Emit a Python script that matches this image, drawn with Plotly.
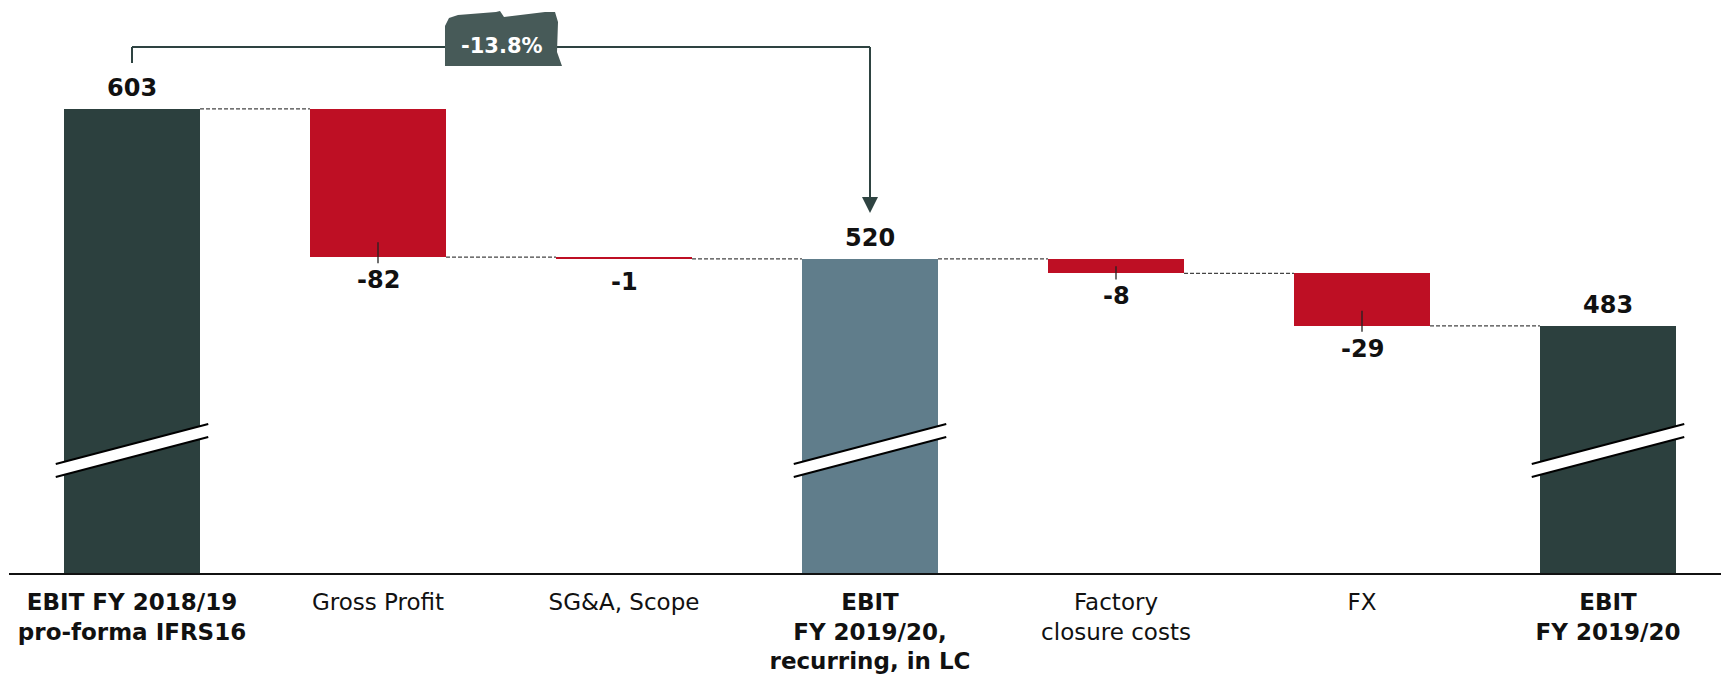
import plotly.graph_objects as go

# ---- data ----
categories = [
    "<b>EBIT FY 2018/19<br>pro-forma IFRS16</b>",
    "Gross Profit",
    "SG&A, Scope",
    "<b>EBIT<br>FY 2019/20,<br>recurring, in LC</b>",
    "Factory<br>closure costs",
    "FX",
    "<b>EBIT<br>FY 2019/20</b>",
]
values = [603, -82, -1, 520, -8, -29, 483]
measures = ["total", "relative", "relative", "total", "relative", "relative", "total"]
total_colors = ["#2C403E", None, None, "#607D8B", None, None, "#2C403E"]
change_label = "-13.8%"

RED = "#BE0F24"
DARK = "#2E4341"
FONT = "DejaVu Sans"

# ---- layout geometry (pixels) ----
W, H = 1721, 677
ML, MB = 9, 104
PW, PH = W - ML, H - MB
Y0, Y1 = 346.2, 663.3
BAR_W = 0.553

def ypx_to_paper(py):
    return (PH - py) / PH

# ---- compute waterfall ----
bases, heights, colors, tops, bottoms = [], [], [], [], []
running = 0
for v, m, c in zip(values, measures, total_colors):
    if m == "total":
        running = v
        bases.append(0)
        heights.append(v)
        colors.append(c)
        tops.append(v)
        bottoms.append(0)
    else:
        new = running + v
        bases.append(new)
        heights.append(-v)
        colors.append(RED)
        tops.append(running)
        bottoms.append(new)
        running = new

x = list(range(len(values)))

fig = go.Figure()
fig.add_trace(go.Bar(
    x=x, y=heights, base=bases, width=BAR_W,
    marker=dict(color=colors, line=dict(width=0)),
    hoverinfo="skip", showlegend=False,
))

shapes = []
annotations = []

# connectors
levels = []
for i, (v, m) in enumerate(zip(values, measures)):
    levels.append(bottoms[i] if m == "relative" else tops[i])
for i in range(len(values) - 1):
    lvl = levels[i]
    shapes.append(dict(type="line", xref="x", yref="y",
                       x0=i + BAR_W / 2, x1=i + 1 - BAR_W / 2, y0=lvl, y1=lvl,
                       line=dict(color="#444444", width=1.2, dash="4px,2px"), layer="below"))

# value labels
for i, (v, m) in enumerate(zip(values, measures)):
    if m == "total":
        annotations.append(dict(x=i, y=tops[i], xref="x", yref="y", text=f"<b>{v}</b>",
                                showarrow=False, yshift=21, yanchor="middle",
                                font=dict(family=FONT, size=24, color="#111111")))
    else:
        annotations.append(dict(x=i, y=bottoms[i], xref="x", yref="y", text=f"<b>{v}</b>",
                                showarrow=False, yshift=-23, yanchor="middle",
                                font=dict(family=FONT, size=24, color="#111111")))
        hpx = abs(v) * PH / (Y1 - Y0)
        if hpx > 4:
            up = min(15, hpx / 2)
            shapes.append(dict(type="line", xref="x", yref="y", ysizemode="pixel",
                               yanchor=bottoms[i], x0=i, x1=i, y0=-6, y1=up,
                               line=dict(color="#222222", width=1.3)))

# axis break marks on total bars
up_l, up_r = 406.5, 428.7
lo_l, lo_r = 399.3, 421.5
ext = 0.31
for i, m in enumerate(measures):
    if m != "total":
        continue
    xl, xr = i - ext, i + ext
    shapes.append(dict(type="path", xref="x", yref="y",
                       path=f"M {xl},{lo_l} L {xr},{lo_r} L {xr},{up_r} L {xl},{up_l} Z",
                       fillcolor="white", line=dict(width=0)))
    shapes.append(dict(type="line", xref="x", yref="y", x0=xl, x1=xr, y0=up_l, y1=up_r,
                       line=dict(color="black", width=2)))
    shapes.append(dict(type="line", xref="x", yref="y", x0=xl, x1=xr, y0=lo_l, y1=lo_r,
                       line=dict(color="black", width=2)))

# bracket arrow from first total to middle total
i0, i1 = 0, 3
yb = ypx_to_paper(47)
shapes.append(dict(type="line", xref="x", yref="paper", x0=i0, x1=i0,
                   y0=ypx_to_paper(63), y1=yb, line=dict(color=DARK, width=2)))
shapes.append(dict(type="line", xref="x", yref="paper", x0=i0, x1=i1,
                   y0=yb, y1=yb, line=dict(color=DARK, width=2)))
shapes.append(dict(type="line", xref="x", yref="paper", x0=i1, x1=i1,
                   y0=yb, y1=ypx_to_paper(200), line=dict(color=DARK, width=2)))
hw = 8 / 246
shapes.append(dict(type="path", xref="x", yref="paper",
                   path=f"M {i1-hw},{ypx_to_paper(197)} L {i1+hw},{ypx_to_paper(197)} "
                        f"L {i1},{ypx_to_paper(213)} Z",
                   fillcolor=DARK, line=dict(width=0)))

# badge (rough tag shape)
def P(px, py):
    return f"{(px - ML) / PW:.5f},{ypx_to_paper(py):.5f}"
badge = ("M " + P(445, 66) + " L " + P(445, 26) + " L " + P(449, 18) + " L " + P(458, 15)
         + " L " + P(496, 12) + " L " + P(500, 11) + " L " + P(504, 17) + " L " + P(545, 12)
         + " L " + P(555, 12) + " L " + P(558, 22) + " L " + P(557, 52) + " L " + P(562, 66) + " Z")
shapes.append(dict(type="path", xref="paper", yref="paper", path=badge,
                   fillcolor="#475A58", line=dict(width=0)))
annotations.append(dict(x=(502 - ML) / PW, y=ypx_to_paper(46), xref="paper", yref="paper",
                        text=f"<b>{change_label}</b>", showarrow=False,
                        font=dict(family=FONT, size=21, color="white"),
                        xanchor="center", yanchor="middle"))

fig.update_layout(
    width=W, height=H,
    margin=dict(l=ML, r=0, t=0, b=MB, pad=0),
    plot_bgcolor="white", paper_bgcolor="white",
    shapes=shapes, annotations=annotations,
    bargap=0,
    xaxis=dict(range=[-0.5, (W - 132) / 246], tickvals=x, ticktext=categories,
               showgrid=False, zeroline=False, showline=True, linecolor="#111111",
               linewidth=2, ticks="outside", ticklen=7, tickcolor="rgba(0,0,0,0)",
               tickfont=dict(family=FONT, size=23, color="#111111"), fixedrange=True),
    yaxis=dict(range=[Y0, Y1], visible=False, showgrid=False, zeroline=False, fixedrange=True),
    font=dict(family=FONT),
)

fig.write_html("out.html", config={"displayModeBar": False},
               post_script="document.body.style.margin='0px';")
